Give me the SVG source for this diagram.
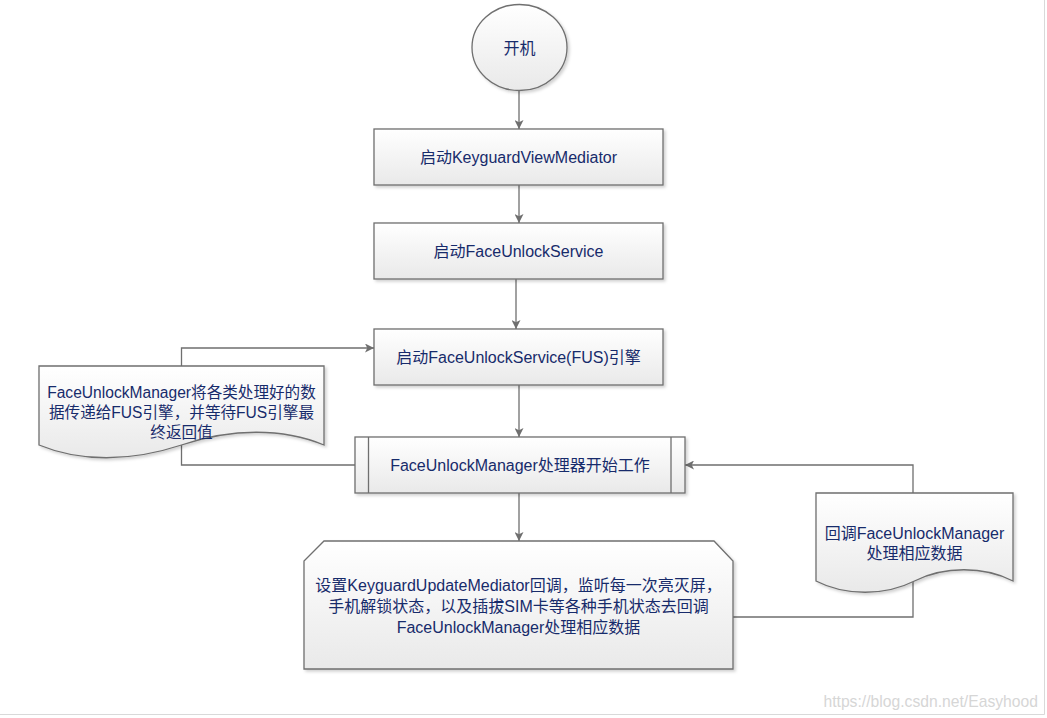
<svg xmlns="http://www.w3.org/2000/svg" width="1047" height="718" viewBox="0 0 1047 718">
<style>
.shape{fill:url(#g);stroke:#6f6f6f;stroke-width:1.3;filter:url(#sh)}
.inner{stroke:#6f6f6f;stroke-width:1.3;fill:none}
.conn{fill:none;stroke:#6f6f6f;stroke-width:1.3}
.t{font-family:"Liberation Sans","Noto Sans CJK SC",sans-serif;font-size:16px;fill:#172b6b;text-anchor:middle}
.s{font-size:15.6px}
.wm{font-family:"Liberation Sans",sans-serif;font-size:15.7px;fill:#d6d6d6;text-anchor:end}
</style>
<defs>
<linearGradient id="g" x1="0" y1="0" x2="0" y2="1">
<stop offset="0" stop-color="#ffffff"/>
<stop offset="1" stop-color="#e9e9e9"/>
</linearGradient>
<filter id="sh" x="-10%" y="-10%" width="120%" height="130%">
<feDropShadow dx="2" dy="2" stdDeviation="1.5" flood-color="#000" flood-opacity="0.18"/>
</filter>
<marker id="ah" viewBox="0 0 10 10" refX="10" refY="5" markerWidth="9" markerHeight="9" markerUnits="userSpaceOnUse" orient="auto">
<path d="M0,0 L10,5 L0,10 L2.5,5 Z" fill="#6f6f6f"/>
</marker>
</defs>
<rect x="0" y="0" width="1047" height="718" fill="#ffffff"/>
<g id="connectors">
<path class="conn" d="M519,91 V129" marker-end="url(#ah)"/>
<path class="conn" d="M519,185 V223" marker-end="url(#ah)"/>
<path class="conn" d="M516,279 V329" marker-end="url(#ah)"/>
<path class="conn" d="M519,385 V437" marker-end="url(#ah)"/>
<path class="conn" d="M519,493 V541" marker-end="url(#ah)"/>
<path class="conn" d="M355,465 H181.5 V348 H374" marker-end="url(#ah)"/>
<path class="conn" d="M733,617 H913 V465 H685" marker-end="url(#ah)"/>
</g>
<g id="start">
<ellipse class="shape" cx="519.5" cy="47.5" rx="47.5" ry="43"/>
<text class="t" x="519.5" y="54">开机</text>
</g>
<g id="box1">
<rect class="shape" x="374" y="129" width="289" height="56"/>
<text class="t" x="518.5" y="163">启动KeyguardViewMediator</text>
</g>
<g id="box2">
<rect class="shape" x="374" y="223" width="289" height="56"/>
<text class="t" x="518.5" y="257">启动FaceUnlockService</text>
</g>
<g id="box3">
<rect class="shape" x="374" y="329" width="289" height="56"/>
<text class="t" x="518.5" y="363">启动FaceUnlockService(FUS)引擎</text>
</g>
<g id="box4">
<rect class="shape" x="355" y="437" width="330" height="56"/>
<line class="inner" x1="368.5" y1="437" x2="368.5" y2="493"/>
<line class="inner" x1="671" y1="437" x2="671" y2="493"/>
<text class="t" x="520" y="471">FaceUnlockManager处理器开始工作</text>
</g>
<g id="docLeft">
<path class="shape" d="M39,366 H324 V445 C283,428 232,428 181.5,445 C130,462 80,462 39,445 Z"/>
<text class="t s" x="181.5" y="398">FaceUnlockManager将各类处理好的数</text>
<text class="t s" x="181.5" y="418">据传递给FUS引擎，并等待FUS引擎最</text>
<text class="t s" x="181.5" y="438">终返回值</text>
</g>
<g id="docRight">
<path class="shape" d="M816,493 H1013 V581 C984,566 944,566 914.5,581 C885,596 845,596 816,581 Z"/>
<text class="t" x="914.5" y="539">回调FaceUnlockManager</text>
<text class="t" x="914.5" y="559">处理相应数据</text>
</g>
<g id="callback">
<path class="shape" d="M324,541 H714 L733,561 V669 H304 V561 Z"/>
<text class="t" x="518.5" y="591">设置KeyguardUpdateMediator回调，监听每一次亮灭屏，</text>
<text class="t" x="518.5" y="612">手机解锁状态，以及插拔SIM卡等各种手机状态去回调</text>
<text class="t" x="518.5" y="633">FaceUnlockManager处理相应数据</text>
</g>
<text class="wm" x="1038" y="707">https://blog.csdn.net/Easyhood</text>
<path d="M0,714.5 H1044.5 V0" fill="none" stroke="#d9d9d9" stroke-width="1"/>
</svg>
